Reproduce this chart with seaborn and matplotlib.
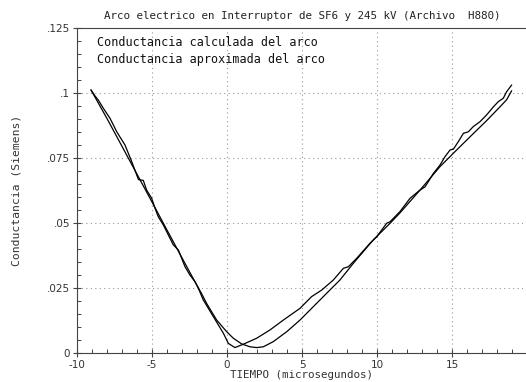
import matplotlib
matplotlib.use("Agg")
import matplotlib.pyplot as plt
import seaborn as sns
import pandas as pd
from matplotlib.ticker import MultipleLocator, FixedLocator
from matplotlib.lines import Line2D

# ---- data ----
x_calc = [-9.07, -8.8, -8.58, -8.24, -7.8, -7.35, -6.8, -6.35, -6.02, -5.9, -5.58,
          -5.36, -5.02, -4.8, -4.58, -4.24, -3.91, -3.58, -3.24, -3.02, -2.8, -2.47,
          -2.13, -1.91, -1.58, -0.91, -0.24, 0.09, 0.53, 1.09, 1.98, 2.87, 3.76, 4.87,
          5.09, 5.64, 6.31, 7.09, 7.76, 8.09, 8.64, 9.53, 9.98, 10.64, 10.87, 11.53,
          12.2, 12.87, 13.2, 13.42, 13.76, 14.2, 14.53, 14.87, 15.09, 15.42, 15.76,
          16.09, 16.42, 16.87, 17.31, 17.76, 18.09, 18.42, 18.64, 18.98]
y_calc = [0.1013, 0.0990, 0.0974, 0.0942, 0.0904, 0.0852, 0.0801, 0.0737, 0.0686,
          0.0668, 0.0665, 0.0628, 0.0596, 0.0558, 0.0525, 0.0493, 0.0455, 0.0417,
          0.0397, 0.0365, 0.0333, 0.0301, 0.0275, 0.0250, 0.0205, 0.0141, 0.0077,
          0.0038, 0.0022, 0.0035, 0.0058, 0.0090, 0.0128, 0.0173, 0.0186, 0.0218,
          0.0243, 0.0282, 0.0327, 0.0333, 0.0365, 0.0423, 0.0448, 0.0500, 0.0506,
          0.0545, 0.0596, 0.0628, 0.0640, 0.0660, 0.0692, 0.0724, 0.0756, 0.0782,
          0.0785, 0.0814, 0.0846, 0.0852, 0.0872, 0.0891, 0.0917, 0.0948, 0.0968,
          0.0981, 0.1006, 0.1032]

x_aprox = [-9.07, -8.0, -7.0, -6.0, -5.0, -4.0, -3.0, -2.2, -1.7, -1.36, -0.69, -0.02,
           0.42, 0.98, 1.53, 1.98, 2.42, 3.09, 3.98, 4.87, 5.42, 6.42, 7.53, 8.42,
           9.75, 10.87, 11.53, 12.87, 14.2, 15.31, 16.42, 17.31, 18.2, 18.64, 18.98]
y_aprox = [0.1013, 0.0903, 0.0796, 0.0689, 0.0582, 0.0474, 0.0367, 0.0282, 0.0230,
           0.0192, 0.0128, 0.0083, 0.0058, 0.0036, 0.0025, 0.0022, 0.0025, 0.0045,
           0.0083, 0.0128, 0.0160, 0.0218, 0.0282, 0.0346, 0.0436, 0.0500, 0.0540,
           0.0628, 0.0718, 0.0782, 0.0845, 0.0895, 0.0948, 0.0975, 0.1010]

labels = ["Conductancia calculada del arco", "Conductancia aproximada del arco"]
x_ticks = [-10, -5, 0, 5, 10, 15, 20]
x_ticklabels = ["-10", "-5", "0", "5", "10", "15", ""]
y_ticks = [0, 0.025, 0.05, 0.075, 0.1, 0.125]
y_ticklabels = ["0", ".025", ".05", ".075", ".1", ".125"]
title = "Arco electrico en Interruptor de SF6 y 245 kV (Archivo  H880)"
xlabel = "TIEMPO (microsegundos)"
ylabel = "Conductancia (Siemens)"

df = pd.concat([
    pd.DataFrame({"t": x_calc, "g": y_calc, "serie": labels[0]}),
    pd.DataFrame({"t": x_aprox, "g": y_aprox, "serie": labels[1]}),
])

sns.set_style("ticks")
plt.rcParams["font.family"] = ["DejaVu Sans Mono", "DejaVu Sans"]

fig = plt.figure(figsize=(5.26, 3.82), dpi=100)
ax = fig.add_axes([77 / 526, 28.7 / 382, 450 / 526, 325 / 382])

sns.lineplot(data=df, x="t", y="g", hue="serie", palette=["black", "black"],
             sort=False, estimator=None, linewidth=0.9, ax=ax, legend=False)

ax.set_xlim(-10, 20)
ax.set_ylim(0, 0.125)
ax.xaxis.set_major_locator(FixedLocator(x_ticks))
ax.set_xticklabels(x_ticklabels)
ax.yaxis.set_major_locator(FixedLocator(y_ticks))
ax.set_yticklabels(y_ticklabels)
ax.xaxis.set_minor_locator(MultipleLocator(1))
ax.yaxis.set_minor_locator(MultipleLocator(0.005))
ax.tick_params(which="major", direction="inout", length=6, width=0.8,
               labelsize=7.5, labelcolor="#333333", color="#444444")
ax.tick_params(which="minor", direction="in", length=3, width=0.7, color="#444444")
for lab in ax.get_xticklabels() + ax.get_yticklabels():
    lab.set_family("DejaVu Sans")
ax.tick_params(axis="x", pad=2)
ax.tick_params(axis="y", pad=2)

ax.grid(True, which="major", linestyle=(0, (1, 3)), color="#999999", linewidth=0.8)
for s in ["left", "bottom", "top"]:
    ax.spines[s].set_color("#444444")
    ax.spines[s].set_linewidth(0.8)
ax.spines["right"].set_visible(False)

ax.set_xlabel(xlabel, fontsize=7.8, color="#333333", labelpad=0)
ax.set_ylabel(ylabel, fontsize=8.2, color="#333333", labelpad=18)
ax.set_title(title, fontsize=7.8, color="#222222", pad=7)

handles = [Line2D([], [], color="none") for _ in labels]
leg = ax.legend(handles, labels, loc="upper left", bbox_to_anchor=(0.045, 0.976),
                frameon=False, handlelength=0, handletextpad=0, borderpad=0,
                borderaxespad=0, labelspacing=0.35,
                prop={"size": 8.5})
for t in leg.get_texts():
    t.set_color("#111111")

fig.savefig("out.png", dpi=100)
